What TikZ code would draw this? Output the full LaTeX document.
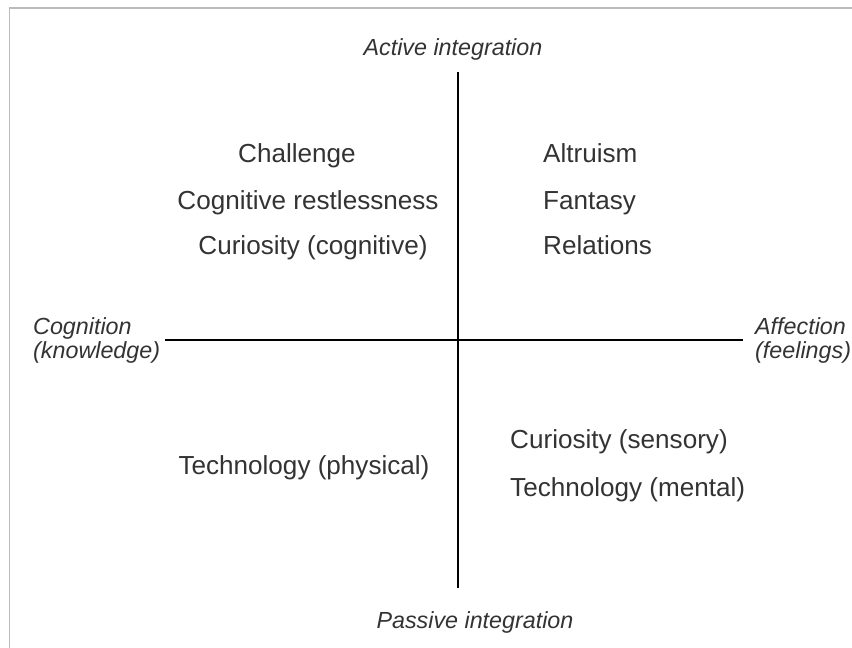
\documentclass[tikz,border=0pt]{standalone}
\usepackage{fontspec}
\setmainfont{Liberation Sans}
\definecolor{txtgray}{HTML}{333333}
\definecolor{framegray}{HTML}{BBBBBB}
\tikzset{
  item/.style={inner sep=0pt, text=txtgray, font=\fontsize{26.1}{30}\selectfont},
  pole/.style={inner sep=0pt, text=txtgray, font=\fontsize{23.3}{24}\selectfont\itshape},
  axis/.style={line width=2.2pt, black}
}
\begin{document}
\begin{tikzpicture}[x=1pt,y=-1pt]
\useasboundingbox (0,0) rectangle (852,648);
% frame
\draw [framegray, line width=1.5pt] (9.5,648) -- (9.5,8) -- (852,8);

% axes
\coordinate (atop) at (458,72);
\coordinate (abot) at (458,588);
\coordinate (aleft) at (165,340);
\coordinate (aright) at (743,340);
\draw [axis] (atop) -- (abot);
\draw [axis] (aleft) -- (aright);

% poles
\node [pole, anchor=base] (active) at (453,55) {Active integration};
\node [pole, anchor=base] (passive) at (475,628) {Passive integration};
\node [pole, anchor=base west] (cogn) at (33,334) {Cognition};
\node [pole, anchor=base west] (know) at (33,358) {(knowledge)};
\node [pole, anchor=base west] (affec) at (755,334) {Affection};
\node [pole, anchor=base west] (feel) at (755,358) {(feelings)};

% upper left
\node [item, anchor=base] (chall) at (297,162) {Challenge};
\node [item, anchor=base] (restl) at (308,209) {Cognitive restlessness};
\node [item, anchor=base] (curcog) at (313,254) {Curiosity (cognitive)};

% upper right
\node [item, anchor=base west] (altr) at (543,162) {Altruism};
\node [item, anchor=base west] (fant) at (543,209) {Fantasy};
\node [item, anchor=base west] (rel) at (543,254) {Relations};

% lower left
\node [item, anchor=base] (techphys) at (304,474) {Technology (physical)};

% lower right
\node [item, anchor=base west] (cursens) at (510,448) {Curiosity (sensory)};
\node [item, anchor=base west] (techment) at (510,496) {Technology (mental)};

\end{tikzpicture}
\end{document}
